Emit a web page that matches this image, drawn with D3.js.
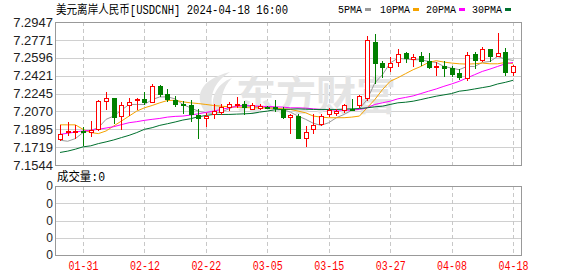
<!DOCTYPE html>
<html>
<head>
<meta charset="utf-8">
<script src="https://cdn.jsdelivr.net/npm/d3@7"></script>
<style>
  html, body { margin: 0; padding: 0; background: #fff; }
  svg { display: block; }
</style>
</head>
<body>
<div id="chart"></div>
<script>
// trading days shown (MM-DD, 2024)
const dates = [
  "01-26","01-29","01-30","01-31","02-01","02-02","02-05","02-06","02-07","02-08",
  "02-09","02-12","02-13","02-14","02-15","02-16","02-19","02-20","02-21","02-22",
  "02-23","02-26","02-27","02-28","02-29","03-01","03-04","03-05","03-06","03-07",
  "03-08","03-11","03-12","03-13","03-14","03-15","03-18","03-19","03-20","03-21",
  "03-22","03-25","03-26","03-27","03-28","03-29","04-01","04-02","04-03","04-04",
  "04-05","04-08","04-09","04-10","04-11","04-12","04-15","04-16","04-17","04-18"
];

const openP = [
  7.1803,7.1868,7.1868,7.1878,7.1868,7.1894,7.2173,7.2203,7.2024,7.2131,
  7.2177,7.2196,7.2167,7.2316,7.2245,7.2186,7.2138,7.2128,7.2030,7.2008,
  7.2043,7.2063,7.2115,7.2138,7.2144,7.2095,7.2105,7.2115,7.2115,7.2095,
  7.2017,7.2024,7.1813,7.1894,7.1949,7.2040,7.2050,7.2082,7.2095,7.2128,
  7.2203,7.2755,7.2544,7.2505,7.2550,7.2641,7.2583,7.2615,7.2560,7.2505,
  7.2511,7.2495,7.2446,7.2397,7.2635,7.2576,7.2680,7.2615,7.2651,7.2453
];
const highP = [
  7.1933,7.1966,7.1933,7.1920,7.1975,7.2186,7.2258,7.2206,7.2160,7.2203,
  7.2203,7.2264,7.2342,7.2333,7.2290,7.2219,7.2170,7.2186,7.2089,7.2056,
  7.2138,7.2138,7.2160,7.2212,7.2170,7.2154,7.2147,7.2120,7.2186,7.2115,
  7.2040,7.2040,7.1927,7.2040,7.2040,7.2105,7.2095,7.2147,7.2196,7.2235,
  7.2810,7.2829,7.2560,7.2602,7.2680,7.2657,7.2631,7.2657,7.2641,7.2550,
  7.2560,7.2511,7.2485,7.2657,7.2657,7.2706,7.2683,7.2842,7.2690,7.2527
];
const lowP = [
  7.1790,7.1835,7.1813,7.1738,7.1829,7.1884,7.2089,7.1953,7.1894,7.2034,
  7.2089,7.2138,7.2160,7.2225,7.2173,7.2121,7.2056,7.1975,7.1813,7.1927,
  7.2008,7.2040,7.2082,7.2115,7.2040,7.2089,7.2089,7.2105,7.2073,7.2008,
  7.1862,7.1806,7.1732,7.1855,7.1933,7.2024,7.2030,7.2063,7.2082,7.2115,
  7.2186,7.2349,7.2407,7.2462,7.2511,7.2550,7.2511,7.2527,7.2495,7.2430,
  7.2414,7.2420,7.2388,7.2375,7.2495,7.2560,7.2560,7.2609,7.2430,7.2430
];
const closeP = [
  7.1852,7.1878,7.1878,7.1868,7.1884,7.2170,7.2199,7.2017,7.2134,7.2164,
  7.2196,7.2160,7.2316,7.2245,7.2193,7.2147,7.2128,7.2040,7.2004,7.2024,
  7.2073,7.2115,7.2144,7.2147,7.2115,7.2128,7.2121,7.2112,7.2102,7.2017,
  7.2030,7.1813,7.1871,7.1933,7.2024,7.2079,7.2069,7.2128,7.2089,7.2225,
  7.2771,7.2544,7.2505,7.2544,7.2635,7.2592,7.2602,7.2560,7.2505,7.2518,
  7.2495,7.2436,7.2404,7.2625,7.2570,7.2680,7.2609,7.2641,7.2453,7.2511
];

// moving averages
const ma5 = [
  7.1787,7.1777,7.1803,7.1862,7.1884,7.1910,7.1992,7.2024,7.2082,7.2138,
  7.2138,7.2138,7.2186,7.2212,7.2212,7.2193,7.2138,7.2105,7.2073,7.2056,
  7.2050,7.2063,7.2095,7.2128,7.2128,7.2115,7.2115,7.2105,7.2105,7.2089,
  7.2063,7.2024,7.1992,7.1953,7.1933,7.1959,7.2008,7.2040,7.2082,7.2095,
  7.2186,7.2349,7.2430,7.2544,7.2592,7.2583,7.2577,7.2577,7.2560,7.2550,
  7.2511,7.2495,7.2479,7.2511,7.2511,7.2550,7.2560,7.2609,7.2583,7.2570
];
const ma10 = [
  7.1938,7.1938,7.1938,7.1894,7.1862,7.1852,7.1878,7.1927,7.1975,7.2024,
  7.2073,7.2105,7.2128,7.2154,7.2177,7.2179,7.2164,7.2154,7.2147,7.2138,
  7.2128,7.2121,7.2115,7.2112,7.2108,7.2105,7.2105,7.2102,7.2102,7.2095,
  7.2089,7.2073,7.2056,7.2024,7.2014,7.2008,7.2008,7.2008,7.2014,7.2024,
  7.2105,7.2186,7.2284,7.2365,7.2400,7.2440,7.2479,7.2511,7.2550,7.2567,
  7.2554,7.2544,7.2537,7.2534,7.2537,7.2544,7.2537,7.2537,7.2550,7.2537
];
const ma20 = [
  7.1845,7.1855,7.1868,7.1878,7.1884,7.1894,7.1907,7.1920,7.1940,7.1959,
  7.1969,7.1982,7.1992,7.2001,7.2014,7.2021,7.2024,7.2034,7.2046,7.2060,
  7.2073,7.2089,7.2105,7.2118,7.2128,7.2125,7.2121,7.2118,7.2115,7.2112,
  7.2105,7.2105,7.2102,7.2095,7.2089,7.2086,7.2082,7.2082,7.2082,7.2089,
  7.2105,7.2138,7.2154,7.2170,7.2193,7.2207,7.2222,7.2245,7.2268,7.2290,
  7.2316,7.2339,7.2365,7.2398,7.2430,7.2462,7.2485,7.2511,7.2537,7.2550
];
const ma30 = [
  7.1667,7.1680,7.1699,7.1722,7.1732,7.1754,7.1771,7.1790,7.1813,7.1835,
  7.1862,7.1894,7.1910,7.1933,7.1949,7.1966,7.1985,7.1998,7.2017,7.2030,
  7.2040,7.2040,7.2040,7.2043,7.2046,7.2050,7.2063,7.2073,7.2086,7.2089,
  7.2092,7.2095,7.2092,7.2089,7.2089,7.2089,7.2089,7.2092,7.2095,7.2098,
  7.2105,7.2115,7.2121,7.2138,7.2154,7.2160,7.2170,7.2186,7.2203,7.2219,
  7.2232,7.2245,7.2268,7.2277,7.2290,7.2303,7.2316,7.2339,7.2355,7.2375
];

const priceTicks = [7.1544, 7.1719, 7.1895, 7.2070, 7.2245, 7.2421, 7.2596, 7.2771, 7.2947];
const dateTicks = ["01-31", "02-12", "02-22", "03-05", "03-15", "03-27", "04-08", "04-18"];
const volTicks = [0, 1, 2, 3, 4];
const volLabels = ["0", "0", "0", "0", "0"];
const maNames = ["5PMA", "10PMA", "20PMA", "30PMA"];

(() => {
  const W = 578, H = 276;
  const plot = { left: 55, right: 521, top: 22, bottom: 165 };
  const vol = { top: 186, bottom: 255 };

  const RED = "#ff0000";
  const GREEN = "#008000";
  const maColors = ["#9a9a9a", "#f5a300", "#ff00ff", "#00702e"];
  const maSeries = [ma5, ma10, ma20, ma30];
  const monoFont = "'Liberation Mono', 'Noto Sans CJK SC', monospace";

  const svg = d3.select("#chart").append("svg")
    .attr("width", W)
    .attr("height", H);

  const x = d3.scalePoint().domain(dates).range([60, 513]);
  const y = d3.scaleLinear()
    .domain([priceTicks[0], priceTicks[priceTicks.length - 1]])
    .range([plot.bottom, plot.top]);
  const yv = d3.scaleLinear().domain([0, 4]).range([vol.bottom, vol.top]);

  const px = v => Math.round(v) + 0.5;

  // title + legend
  svg.append("text")
    .attr("x", 56).attr("y", 14)
    .attr("font-family", monoFont)
    .attr("font-size", 12)
    .attr("textLength", 232)
    .attr("lengthAdjust", "spacingAndGlyphs")
    .attr("fill", "#000")
    .text("美元离岸人民币[USDCNH] 2024-04-18 16:00");

  const legendX = [338, 380, 426, 472];
  const legendW = [24, 30, 30, 30];
  const legend = svg.append("g");
  maNames.forEach((name, i) => {
    legend.append("text")
      .attr("x", legendX[i]).attr("y", 13)
      .attr("font-family", monoFont)
      .attr("font-size", 11)
      .attr("textLength", legendW[i])
      .attr("lengthAdjust", "spacingAndGlyphs")
      .attr("fill", "#000")
      .text(name);
    legend.append("rect")
      .attr("x", legendX[i] + legendW[i] + 3).attr("y", 8)
      .attr("width", 6).attr("height", 3)
      .attr("fill", maColors[i]);
  });

  // price grid
  const grid = svg.append("g");
  grid.selectAll("line.h")
    .data(priceTicks.slice(1, -1))
    .join("line")
    .attr("x1", plot.left).attr("x2", plot.right)
    .attr("y1", d => px(y(d))).attr("y2", d => px(y(d)))
    .attr("stroke", "#d0d0d0");

  grid.selectAll("line.v")
    .data(dateTicks)
    .join("line")
    .attr("x1", d => px(x(d))).attr("x2", d => px(x(d)))
    .attr("y1", plot.top).attr("y2", plot.bottom)
    .attr("stroke", "#c8c8c8")
    .attr("stroke-dasharray", "4,3");

  // watermark
  const wm = svg.append("g").attr("fill", "#e4e4e4");
  wm.append("path")
    .attr("d", "M206,113 C194,98 198,80 230,72 C214,82 208,96 214,113 Z M214,113 C210,98 216,84 232,78 C222,88 220,100 222,113 Z");
  wm.append("text")
    .attr("x", 236).attr("y", 110)
    .attr("font-family", "'Noto Sans CJK SC', sans-serif")
    .attr("font-weight", "bold")
    .attr("font-size", 40)
    .text("东方财富");

  // y labels
  svg.append("g").selectAll("text")
    .data(priceTicks)
    .join("text")
    .attr("x", 53)
    .attr("y", d => y(d))
    .attr("dy", "0.36em")
    .attr("text-anchor", "end")
    .attr("font-family", "'Liberation Sans', Arial, sans-serif")
    .attr("font-size", 13)
    .attr("fill", "#222")
    .text(d => d.toFixed(4));

  // moving averages
  maSeries.forEach((s, i) => {
    svg.append("path")
      .datum(s)
      .attr("fill", "none")
      .attr("stroke", maColors[i])
      .attr("stroke-width", 1)
      .attr("d", d3.line().x((d, j) => x(dates[j])).y(d => y(d)));
  });

  // candles
  const candles = dates.map((d, i) => ({
    date: d, o: openP[i], h: highP[i], l: lowP[i], c: closeP[i]
  }));

  const cg = svg.append("g")
    .selectAll("g")
    .data(candles)
    .join("g");

  cg.append("line")
    .attr("x1", d => px(x(d.date))).attr("x2", d => px(x(d.date)))
    .attr("y1", d => Math.round(y(d.h))).attr("y2", d => Math.round(y(d.l)) + 1)
    .attr("stroke", d => (d.c >= d.o ? RED : GREEN));

  cg.append("rect")
    .attr("x", d => Math.round(x(d.date)) - 1.5)
    .attr("width", 4)
    .attr("y", d => px(y(Math.max(d.o, d.c))))
    .attr("height", d => Math.max(1, Math.round(y(Math.min(d.o, d.c))) - Math.round(y(Math.max(d.o, d.c)))))
    .attr("fill", d => (d.c >= d.o ? "#fff" : GREEN))
    .attr("stroke", d => (d.c >= d.o ? RED : GREEN));

  // price frame
  svg.append("rect")
    .attr("x", plot.left + 0.5).attr("y", plot.top + 0.5)
    .attr("width", plot.right - plot.left).attr("height", plot.bottom - plot.top)
    .attr("fill", "none")
    .attr("stroke", "#999");

  // volume panel
  svg.append("text")
    .attr("x", 57).attr("y", 181)
    .attr("font-family", monoFont)
    .attr("font-size", 12)
    .attr("textLength", 48)
    .attr("lengthAdjust", "spacingAndGlyphs")
    .attr("fill", "#000")
    .text("成交量:0");

  const vg = svg.append("g");
  vg.selectAll("line.h")
    .data(volTicks.slice(1, -1))
    .join("line")
    .attr("x1", plot.left).attr("x2", plot.right)
    .attr("y1", d => px(yv(d))).attr("y2", d => px(yv(d)))
    .attr("stroke", "#d0d0d0");

  vg.selectAll("line.v")
    .data(dateTicks)
    .join("line")
    .attr("x1", d => px(x(d))).attr("x2", d => px(x(d)))
    .attr("y1", vol.top).attr("y2", vol.bottom)
    .attr("stroke", "#c8c8c8")
    .attr("stroke-dasharray", "4,3");

  vg.selectAll("text")
    .data(volTicks)
    .join("text")
    .attr("x", 53)
    .attr("y", d => yv(d))
    .attr("dy", "0.36em")
    .attr("text-anchor", "end")
    .attr("font-family", "'Liberation Sans', Arial, sans-serif")
    .attr("font-size", 12)
    .attr("fill", "#222")
    .text((d, i) => volLabels[i]);

  svg.append("rect")
    .attr("x", plot.left + 0.5).attr("y", vol.top + 0.5)
    .attr("width", plot.right - plot.left).attr("height", vol.bottom - vol.top)
    .attr("fill", "none")
    .attr("stroke", "#999");

  // date labels
  svg.append("g").selectAll("text")
    .data(dateTicks)
    .join("text")
    .attr("x", d => x(d) + 0.5)
    .attr("y", 270)
    .attr("text-anchor", "middle")
    .attr("font-family", monoFont)
    .attr("font-size", 12)
    .attr("textLength", 30)
    .attr("lengthAdjust", "spacingAndGlyphs")
    .attr("fill", RED)
    .text(d => d);
})();
</script>
</body>
</html>
